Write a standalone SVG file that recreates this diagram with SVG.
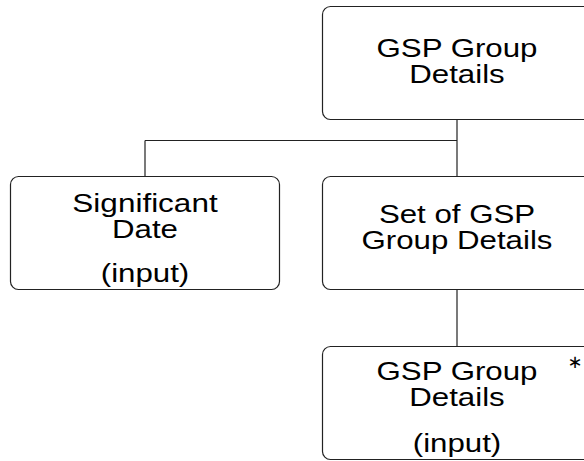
<svg xmlns="http://www.w3.org/2000/svg" width="584" height="461" viewBox="0 0 584 461">
<style>
.box{fill:#fff;stroke:#222;stroke-width:1.2}
.t{font-family:"Liberation Sans",Arial,sans-serif;font-size:25px;fill:#000;text-anchor:middle}
.c{fill:none;stroke:#222;stroke-width:1.2}
</style>
<rect width="584" height="461" fill="#fff"/>
<g id="connectors">
<path class="c" d="M457 119.5V176.5M145 140.5H457M145 140.5V177M457 289.5V347"/>
</g>
<g id="n1">
<rect class="box" x="322.5" y="6.5" width="269" height="113" rx="8"/>
<text class="t" transform="translate(457,57) scale(1.25,1)">GSP Group</text>
<text class="t" transform="translate(457,83) scale(1.25,1)">Details</text>
</g>
<g id="n2">
<rect class="box" x="10.5" y="176.5" width="269" height="113" rx="8"/>
<text class="t" transform="translate(145,212) scale(1.26,1)">Significant</text>
<text class="t" transform="translate(145,238) scale(1.25,1)">Date</text>
<text class="t" transform="translate(145,282) scale(1.25,1)">(input)</text>
</g>
<g id="n3">
<rect class="box" x="322.5" y="176.5" width="269" height="113" rx="8"/>
<text class="t" transform="translate(457,223) scale(1.25,1)">Set of GSP</text>
<text class="t" transform="translate(457,249) scale(1.25,1)">Group Details</text>
</g>
<g id="n4">
<rect class="box" x="322.5" y="346.5" width="269" height="113" rx="8"/>
<text class="t" transform="translate(457,380) scale(1.25,1)">GSP Group</text>
<text class="t" transform="translate(457,406) scale(1.25,1)">Details</text>
<text class="t" transform="translate(457,452) scale(1.25,1)">(input)</text>
<text style="font-family:'DejaVu Sans',sans-serif;font-size:18px;text-anchor:middle" x="575" y="368">∗</text>
</g>
</svg>
